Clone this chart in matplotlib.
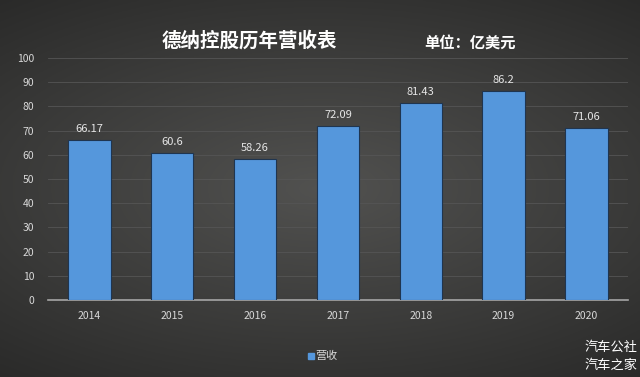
import numpy as np
import matplotlib
matplotlib.use('Agg')
import matplotlib.pyplot as plt
from matplotlib.patches import Rectangle

plt.rcParams['font.family'] = ['Noto Sans CJK SC', 'DejaVu Sans']

years = ['2014', '2015', '2016', '2017', '2018', '2019', '2020']
revenue = [66.17, 60.6, 58.26, 72.09, 81.43, 86.2, 71.06]
labels = ['66.17', '60.6', '58.26', '72.09', '81.43', '86.2', '71.06']

fig = plt.figure(figsize=(6.4, 3.77), dpi=100)

# dark vignette background
bg = fig.add_axes([0, 0, 1, 1])
yy, xx = np.mgrid[-1:1:200j, -1:1:340j]
r = np.sqrt((xx * 0.8) ** 2 + (yy * 1.0) ** 2)
shade = 0.32 - 0.12 * np.clip(r, 0, 1.4)
img = np.dstack([shade, shade, shade * 0.98])
bg.imshow(img, extent=[0, 1, 0, 1], aspect='auto')
bg.set_axis_off()

ax = fig.add_axes([0.075, 0.204, 0.906, 0.642])
ax.patch.set_alpha(0)
x = np.arange(len(years))
ax.bar(x, revenue, width=0.51, color='#5597dc', edgecolor='#1f3550',
       linewidth=0.8, zorder=3)
for xi, v, s in zip(x, revenue, labels):
    ax.text(xi, v + 2.5, s, ha='center', va='bottom', color='#e6e6e6', fontsize=8)

ax.set_xlim(-0.5, 6.5)
ax.set_ylim(0, 100)
ax.set_yticks(range(0, 101, 10))
ax.set_xticks(x)
ax.set_xticklabels(years)
ax.tick_params(colors='#d9d9d9', labelsize=7.5, length=0)
ax.tick_params(axis='y', pad=10)
ax.tick_params(axis='x', pad=8)
ax.grid(axis='y', color='#555555', linewidth=0.6, zorder=0)
for s in ['top', 'right', 'left']:
    ax.spines[s].set_visible(False)
ax.spines['bottom'].set_color('#a6a6a6')
ax.spines['bottom'].set_linewidth(1.2)

fig.text(0.39, 0.893, '德纳控股历年营收表', color='white', fontsize=14,
         fontweight='bold', ha='center', va='center')
fig.text(0.735, 0.888, '单位：亿美元', color='white', fontsize=11,
         fontweight='bold', ha='center', va='center')

# legend
fig.patches.append(Rectangle((0.481, 0.048), 0.009, 0.016, transform=fig.transFigure,
                             color='#5597dc', figure=fig))
fig.text(0.493, 0.056, '营收', color='#d9d9d9', fontsize=8, ha='left', va='center')

fig.text(0.955, 0.078, '汽车公社', color='white', fontsize=9.5, ha='center', va='center')
fig.text(0.955, 0.03, '汽车之家', color='white', fontsize=9.5, ha='center', va='center')

fig.savefig('out.png', dpi=100)
